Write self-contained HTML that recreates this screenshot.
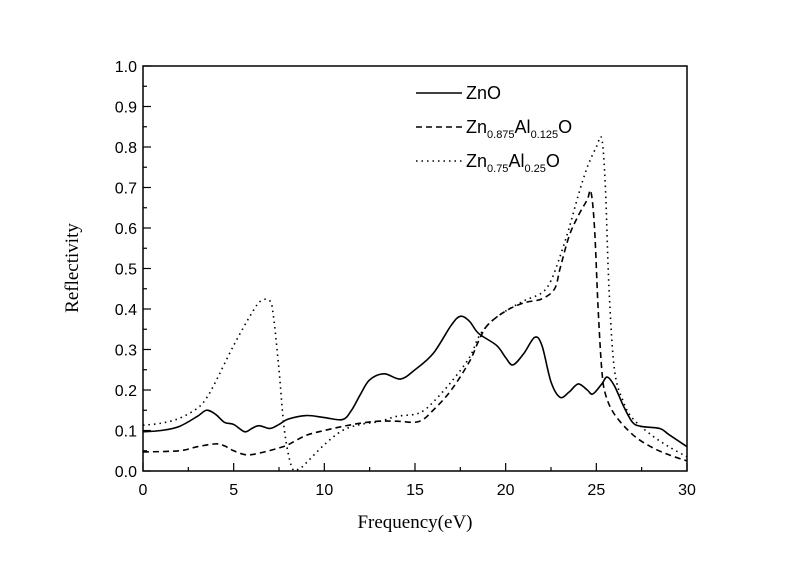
<!DOCTYPE html>
<html><head><meta charset="utf-8"><style>
body{margin:0;background:#fff;}
svg text{font-family:"Liberation Sans",Arial,sans-serif;}
</style></head><body>
<svg id="chart" width="800" height="565" xmlns="http://www.w3.org/2000/svg">
<rect x="0" y="0" width="800" height="565" fill="#fff"/>
<g id="axes"></g>
<g id="series"></g>
<g id="legend">
 <line x1="416" y1="93" x2="462" y2="93" stroke="#000" stroke-width="1.6"/>
 <text x="466" y="99" font-size="18">ZnO</text>
 <line x1="416" y1="127" x2="462" y2="127" stroke="#000" stroke-width="1.6" stroke-dasharray="6,4"/>
 <text x="466" y="133" font-size="18">Zn<tspan font-size="11" dy="5">0.875</tspan><tspan dy="-5">Al</tspan><tspan font-size="11" dy="5">0.125</tspan><tspan dy="-5">O</tspan></text>
 <line x1="416" y1="161" x2="462" y2="161" stroke="#000" stroke-width="1.6" stroke-dasharray="1.5,4"/>
 <text x="466" y="167" font-size="18">Zn<tspan font-size="11" dy="5">0.75</tspan><tspan dy="-5">Al</tspan><tspan font-size="11" dy="5">0.25</tspan><tspan dy="-5">O</tspan></text>
</g>
<text x="415" y="528" text-anchor="middle" font-size="19" style="font-family:'Liberation Serif',serif">Frequency(eV)</text>
<text transform="translate(78,268) rotate(-90)" text-anchor="middle" font-size="19" style="font-family:'Liberation Serif',serif">Reflectivity</text>
</svg>
<script>
const xTicks=[0,5,10,15,20,25,30];
const yTicks=[0.0,0.1,0.2,0.3,0.4,0.5,0.6,0.7,0.8,0.9,1.0];
const znoX=[0,1,2,3,3.5,4,4.5,5,5.6,6,6.4,7,7.5,8,9,10,11,11.5,12,12.5,13.3,14.2,15,16,17,17.5,18,18.5,19.5,20,20.4,21,21.6,22,22.5,23,23.5,24,24.5,24.8,25.3,25.6,26,26.5,27,27.5,28.5,29,30];
const znoY=[0.097,0.1,0.11,0.135,0.15,0.14,0.12,0.115,0.097,0.105,0.112,0.105,0.115,0.128,0.137,0.132,0.127,0.15,0.19,0.225,0.24,0.227,0.25,0.29,0.36,0.382,0.37,0.34,0.31,0.28,0.262,0.29,0.33,0.31,0.22,0.182,0.195,0.215,0.2,0.19,0.215,0.232,0.21,0.16,0.12,0.11,0.105,0.09,0.06];
const al125X=[0,2,3,4,4.5,5,5.7,6.5,7.5,8,9,10,11,12,13,14,15.2,16,17,18,18.5,19,20,21,22,22.7,23,23.5,24,24.5,24.7,24.9,25.1,25.3,25.5,26,27,28,29,30];
const al125Y=[0.047,0.05,0.06,0.067,0.062,0.05,0.04,0.045,0.057,0.065,0.088,0.1,0.11,0.118,0.123,0.123,0.122,0.15,0.2,0.27,0.32,0.36,0.395,0.415,0.425,0.45,0.5,0.58,0.63,0.67,0.69,0.6,0.4,0.25,0.19,0.14,0.09,0.06,0.04,0.025];
const al25X=[0,1,2,3,3.5,4,5,6,6.5,7,7.2,7.5,7.8,8.2,8.6,9,10,11,12,13,14,15,15.5,16,17,18,18.5,19,19.5,20,21,22,22.5,23,23.5,24,24.5,25,25.3,25.5,25.7,26,26.5,27,28,29,30];
const al25Y=[0.113,0.118,0.13,0.155,0.18,0.22,0.31,0.39,0.42,0.42,0.38,0.25,0.1,0.01,0.005,0.02,0.065,0.1,0.115,0.122,0.135,0.14,0.15,0.17,0.22,0.28,0.33,0.36,0.38,0.395,0.42,0.44,0.47,0.53,0.6,0.68,0.75,0.8,0.82,0.7,0.45,0.25,0.17,0.13,0.09,0.06,0.035];
const L=143,R=687,T=66,B=471;
const sx=v=>L+(v-0)/(30-0)*(R-L);
const sy=v=>B-(v-0)/(1-0)*(B-T);
const NS='http://www.w3.org/2000/svg';
function mk(tag,attrs,parent){const e=document.createElementNS(NS,tag);for(const k in attrs)e.setAttribute(k,attrs[k]);parent.appendChild(e);return e;}
const ax=document.getElementById('axes');
const frame=mk('rect',{x:L,y:T,width:R-L,height:B-T,fill:'none',stroke:'#000','stroke-width':1.5},ax);


xTicks.forEach((t,i)=>{
 const x=sx(t);
 mk('line',{x1:x,y1:B,x2:x,y2:B-8,stroke:'#000','stroke-width':1.2},ax);
 if(i<xTicks.length-1){const m=sx(t+2.5);mk('line',{x1:m,y1:B,x2:m,y2:B-4,stroke:'#000','stroke-width':1.2},ax);}
 const tx=mk('text',{x:x,y:B+24,'text-anchor':'middle','font-size':16},ax);
 
 
 tx.textContent=t;
});
yTicks.forEach((t,i)=>{
 const y=sy(t);
 mk('line',{x1:L,y1:y,x2:L+8,y2:y,stroke:'#000','stroke-width':1.2},ax);
 if(i<yTicks.length-1){const m=sy(t+0.05);mk('line',{x1:L,y1:m,x2:L+4,y2:m,stroke:'#000','stroke-width':1.2},ax);}
 const tx=mk('text',{x:L-6,y:y+6,'text-anchor':'end','font-size':16},ax);
 
 
 tx.textContent=t.toFixed(1);
});
function path(xs,ys){
 const p=xs.map((x,i)=>[sx(x),sy(ys[i])]);
 let d='M'+p[0][0]+','+p[0][1];
 for(let i=0;i<p.length-1;i++){
  const p0=p[Math.max(0,i-1)],p1=p[i],p2=p[i+1],p3=p[Math.min(p.length-1,i+2)];
  const c1=[p1[0]+(p2[0]-p0[0])/6,p1[1]+(p2[1]-p0[1])/6];
  const c2=[p2[0]-(p3[0]-p1[0])/6,p2[1]-(p3[1]-p1[1])/6];
  d+=' C'+c1+' '+c2+' '+p2;
 }
 return d;
}
const sg=document.getElementById('series');
const s1=mk('path',{d:path(znoX,znoY),fill:'none',stroke:'#000','stroke-width':1.6},sg);


const s2=mk('path',{d:path(al125X,al125Y),fill:'none',stroke:'#000','stroke-width':1.6,'stroke-dasharray':'6,4'},sg);


const s3=mk('path',{d:path(al25X,al25Y),fill:'none',stroke:'#000','stroke-width':1.6,'stroke-dasharray':'1.5,4'},sg);


</script>
</body></html>
